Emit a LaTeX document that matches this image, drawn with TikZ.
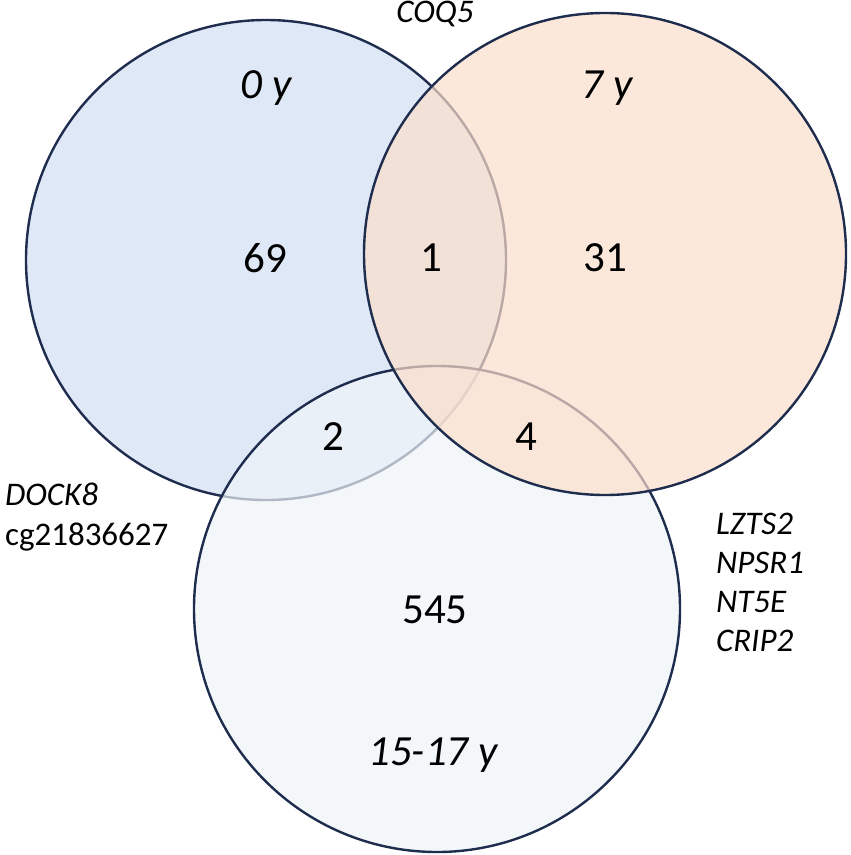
\documentclass[tikz,border=0pt]{standalone}
\usepackage{fontspec}
\setmainfont{Carlito}
\usepackage{xcolor}

\tikzset{
  setcircle/.style={circle, draw=navyline, line width=1.2pt, fill opacity=0.7, inner sep=0pt, outer sep=0pt, minimum size=#1},
  count/.style={font=\fontsize{21.5}{25}\selectfont},
  agelabel/.style={font=\fontsize{21.5}{25}\selectfont\itshape},
  gene/.style={font=\fontsize{16.5}{20}\selectfont, align=left}
}

\begin{document}
\begin{tikzpicture}[x=0.5pt, y=-0.5pt]
        % Define colors - one per age group
        \definecolor{navyline}{RGB}{30,44,78}
        \definecolor{birthfill}{RGB}{208,222,242}
        \definecolor{sevenfill}{RGB}{251,222,202}
        \definecolor{teenfill}{RGB}{239,244,248}

        \useasboundingbox (0,0) rectangle (850,855);

        % Circles - drawn in order 0 y, 15-17 y, 7 y
        \node[setcircle=240pt, fill=birthfill] (birth) at (266,260) {};
        \node[setcircle=243pt, fill=teenfill] (teen) at (437,609) {};
        \node[setcircle=241pt, fill=sevenfill] (seven) at (605,254) {};

        % Age labels
        \node[agelabel] (birthlbl) at (266,88) {0 y};
        \node[agelabel] (sevenlbl) at (607,88) {7 y};
        \node[agelabel] (teenlbl) at (433,755) {15-17 y};

        % Counts per region
        \node[count] (onlybirth) at (265,258) {69};
        \node[count] (birthseven) at (431,258) {1};
        \node[count] (onlyseven) at (605,258) {31};
        \node[count] (birthteen) at (333,437) {2};
        \node[count] (seventeen) at (526,437) {4};
        \node[count] (onlyteen) at (435,610) {545};

        % Genes in the overlaps
        \node[gene, font=\fontsize{16.5}{20}\selectfont\itshape] (coq) at (435,14) {COQ5};
        \node[gene, anchor=west] (dock) at (-2,517) {\textit{DOCK8}\\cg21836627};
        \node[gene, font=\fontsize{16.5}{19.5}\selectfont\itshape, anchor=west] (lzts) at (709,582) {LZTS2\\NPSR1\\NT5E\\CRIP2};
\end{tikzpicture}
\end{document}
